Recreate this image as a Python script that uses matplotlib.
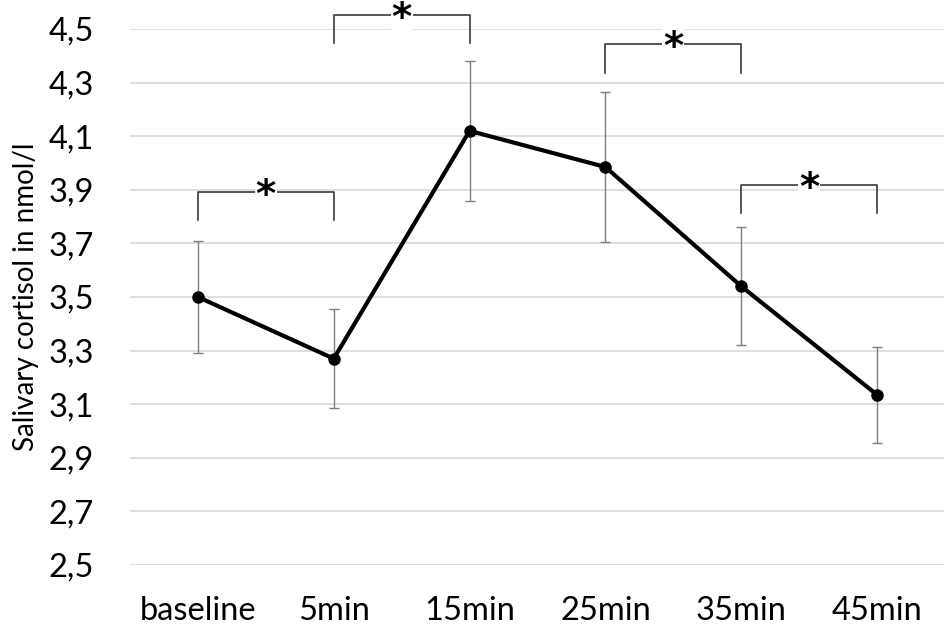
import numpy as np
import matplotlib
matplotlib.use('Agg')
import matplotlib.pyplot as plt

# values
times = ['baseline', '5min', '15min', '25min', '35min', '45min']
cortisol = [3.50, 3.27, 4.12, 3.985, 3.54, 3.135]
cortisol_err = [0.21, 0.185, 0.26, 0.28, 0.22, 0.18]
yticks = [2.5, 2.7, 2.9, 3.1, 3.3, 3.5, 3.7, 3.9, 4.1, 4.3, 4.5]

# significance brackets: (start index, end index, top y, drop)
brackets = [(0, 1, 3.892, 0.105),
            (1, 2, 4.552, 0.105),
            (3, 4, 4.444, 0.108),
            (4, 5, 3.918, 0.105)]

plt.rcParams['font.family'] = ['Lato', 'DejaVu Sans']

fig = plt.figure(figsize=(9.45, 6.27), dpi=100)
ax = fig.add_axes([130/945, 62/627, 815/945, 536/627])

x = np.arange(len(times))

#error bars first, then line on top
ax.errorbar(x, cortisol, yerr=cortisol_err, fmt='none', ecolor='#7f7f7f',
            elinewidth=1, capsize=3.6, capthick=1, zorder=2)
ax.plot(x, cortisol, color='black', lw=3, marker='o', markersize=8, zorder=3)

ax.set_xlim(-0.5, 5.5)
ax.set_ylim(2.5, 4.5)
ax.set_yticks(yticks)
ax.set_yticklabels([('%.1f' % v).replace('.', ',') for v in yticks])
ax.set_xticks(x)
ax.set_xticklabels(times)
ax.tick_params(axis='both', length=0, labelsize=23.5, colors='black')
ax.tick_params(axis='y', pad=26)
ax.tick_params(axis='x', pad=22)
ax.yaxis.grid(True, color='#d9d9d9', lw=1.2)
ax.set_axisbelow(True)
for s in ax.spines.values():
    s.set_visible(False)

ax.set_ylabel('Salivary cortisol in nmol/l', fontsize=20, labelpad=7)

# brackets with stars
for i0, i1, top, drop in brackets:
    ax.plot([i0, i0, i1, i1], [top - drop, top, top, top - drop],
            color='#3a3a3a', lw=1.2, clip_on=False, zorder=4)
    ax.text((i0 + i1) / 2, top, '*', ha='center', va='center_baseline',
            fontsize=28, fontweight='bold', family='DejaVu Sans',
            bbox=dict(facecolor='white', edgecolor='none', pad=0.5),
            clip_on=False, zorder=5)

fig.savefig('out.png', dpi=100)
